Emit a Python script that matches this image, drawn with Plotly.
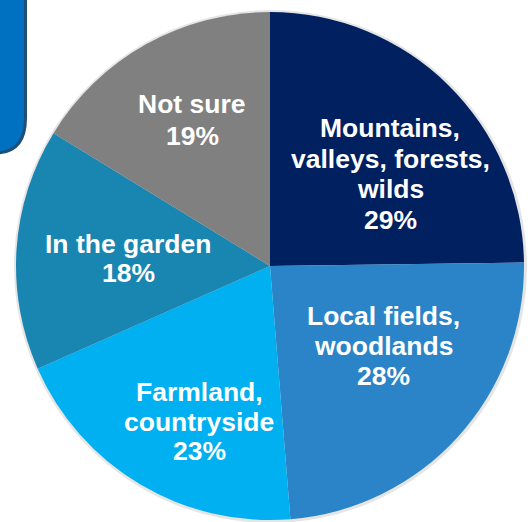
import plotly.graph_objects as go

W, H = 528, 522

categories = ["Mountains,<br>valleys, forests,<br>wilds", "Local fields,<br>woodlands",
              "Farmland,<br>countryside", "In the garden", "Not sure"]
values = [29, 28, 23, 18, 19]
colors = ["#002060", "#2A84C7", "#00B0F0", "#1985B1", "#808080"]

# label anchor: centre x and the y of the first line (pixels from top), line step
label_pos = [(390, 128, 30.5), (383, 316, 30), (199, 392, 29.5), (128, 244, 29), (192, 104, 32)]

def px(x):
    return x / W

def py(y):
    return 1 - y / H

fig = go.Figure(go.Pie(
    labels=categories,
    values=values,
    sort=False,
    direction="clockwise",
    rotation=0,
    marker=dict(colors=colors, line=dict(width=0)),
    textinfo="none",
    hoverinfo="label+value",
    showlegend=False,
    domain=dict(x=[px(16), px(524)], y=[py(520), py(12)]),
))

for cat, v, (x, y0, step) in zip(categories, values, label_pos):
    lines = cat.split("<br>") + [f"{v}%"]
    for i, line in enumerate(lines):
        fig.add_annotation(
            x=px(x), y=py(y0 + i * step), xref="paper", yref="paper",
            text=line, showarrow=False,
            font=dict(family="Liberation Sans", size=26.5, color="white", weight="bold"),
            align="center", xanchor="center", yanchor="middle",
        )

# soft shadow behind the pie
fig.add_shape(type="circle", xref="paper", yref="paper",
              x0=px(14), x1=px(527), y0=py(523), y1=py(10),
              fillcolor="rgba(0,0,0,0.10)", line=dict(width=0), layer="below")

# decorative blue box at top-left
path = (f"M {px(-10)},{py(-5)} L {px(25.5)},{py(-5)} L {px(25.5)},{py(118)} "
        f"Q {px(25.5)},{py(153)} {px(-5)},{py(153)} L {px(-10)},{py(153)} Z")
fig.add_shape(type="path", path=path, xref="paper", yref="paper",
              fillcolor="#0070C0", line=dict(color="#1F4E79", width=3), layer="above")

fig.update_layout(
    width=W, height=H,
    margin=dict(l=0, r=0, t=0, b=0),
    paper_bgcolor="white", plot_bgcolor="white",
)

fig.write_html("out.html")
